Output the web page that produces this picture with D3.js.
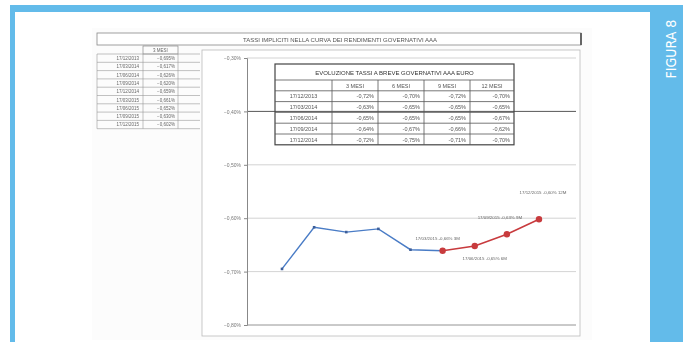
<!DOCTYPE html>
<html>
<head>
<meta charset="utf-8">
<script src="https://cdn.jsdelivr.net/npm/d3@7"></script>
<style>
  body { margin: 0; background: #fff; }
  svg { display: block; font-family: "Liberation Sans", Arial, sans-serif; }
</style>
</head>
<body>
<svg id="drawing_region"></svg>
<script>
// dati
const dates = ["17/12/2013", "17/03/2014", "17/06/2014", "17/09/2014", "17/12/2014",
               "17/03/2015", "17/06/2015", "17/09/2015", "17/12/2015"];
const blueValues = [-0.695, -0.617, -0.626, -0.620, -0.659, -0.661];
const redValues = [-0.661, -0.652, -0.630, -0.602];
const yTicks = [-0.30, -0.40, -0.50, -0.60, -0.70, -0.80];
const pointLabels = ["17/03/2015 -0,66% 3M", "17/06/2015 -0,65% 6M", "17/09/2015 -0,63% 9M", "17/12/2015 -0,60% 12M"];

const mainTitle = "TASSI IMPLICITI NELLA CURVA DEI RENDIMENTI GOVERNATIVI AAA";
const tableTitle = "EVOLUZIONE TASSI A BREVE GOVERNATIVI AAA EURO";
const tableHeaders = ["3 MESI", "6 MESI", "9 MESI", "12 MESI"];
const tableDates = ["17/12/2013", "17/03/2014", "17/06/2014", "17/09/2014", "17/12/2014"];
const tableRows = [
  ["-0,72%", "-0,70%", "-0,72%", "-0,70%"],
  ["-0,63%", "-0,65%", "-0,65%", "-0,65%"],
  ["-0,65%", "-0,65%", "-0,65%", "-0,67%"],
  ["-0,64%", "-0,67%", "-0,66%", "-0,62%"],
  ["-0,72%", "-0,75%", "-0,71%", "-0,70%"]
];
const leftHeader = "3 MESI";
const figLabel = "FIGURA 8";

const W = 683, H = 342;
const blue = "#63bbea";
const fmt = v => d3.format(".2f")(v).replace(".", ",") + "%";
const fmt3 = v => d3.format(".3f")(v).replace(".", ",") + "%";

const svg = d3.select("#drawing_region").attr("width", W).attr("height", H);

// filtro leggero per imitare la scansione
const defs = svg.append("defs");
defs.append("filter").attr("id", "soft")
  .append("feGaussianBlur").attr("stdDeviation", 0.4);

// cornice blu
svg.append("rect").attr("x", 10).attr("y", 5).attr("width", W - 10).attr("height", 7).attr("fill", blue);
svg.append("rect").attr("x", 10).attr("y", 5).attr("width", 5).attr("height", H - 5).attr("fill", blue);
svg.append("rect").attr("x", 650).attr("y", 5).attr("width", 33).attr("height", H - 5).attr("fill", blue);
svg.append("text")
  .attr("transform", "translate(671, 49) rotate(-90)")
  .attr("text-anchor", "middle")
  .attr("dominant-baseline", "central")
  .attr("fill", "#fff")
  .style("font-family", "'Liberation Sans Narrow', 'DejaVu Sans Condensed', 'Roboto', sans-serif")
  .style("font-stretch", "condensed")
  .style("font-size", "14px")
  .text(figLabel);

// area scansionata
const scan = svg.append("g").attr("filter", "url(#soft)");
scan.append("rect").attr("x", 92).attr("y", 28).attr("width", 500).attr("height", 312).attr("fill", "#fcfcfc");

// titolo principale
scan.append("rect").attr("x", 97).attr("y", 33).attr("width", 484).attr("height", 12)
  .attr("fill", "#fff").attr("stroke", "#888").attr("stroke-width", 0.8);
scan.append("line").attr("x1", 581).attr("x2", 581).attr("y1", 33).attr("y2", 45)
  .attr("stroke", "#666").attr("stroke-width", 2);
scan.append("text").attr("x", 340).attr("y", 41.5).attr("text-anchor", "middle")
  .style("font-size", "6px").attr("fill", "#555").text(mainTitle);

// tabella a sinistra
const lt = { x0: 97, c1: 143, c2: 178, x1: 200, top: 46, hh: 8, rh: 8.3 };
const ltBottom = lt.top + lt.hh + dates.length * lt.rh;
scan.append("rect").attr("x", lt.c1).attr("y", lt.top).attr("width", lt.c2 - lt.c1).attr("height", lt.hh)
  .attr("fill", "none").attr("stroke", "#777").attr("stroke-width", 0.6);
scan.append("text").attr("x", (lt.c1 + lt.c2) / 2).attr("y", lt.top + 6).attr("text-anchor", "middle")
  .style("font-size", "4.5px").attr("fill", "#666").text(leftHeader);
dates.forEach((d, i) => {
  const y = lt.top + lt.hh + i * lt.rh;
  const v = i < blueValues.length ? blueValues[i] : redValues[i - blueValues.length + 1];
  scan.append("line").attr("x1", lt.x0).attr("x2", lt.x1).attr("y1", y).attr("y2", y)
    .attr("stroke", "#999").attr("stroke-width", 0.6);
  scan.append("text").attr("x", lt.c1 - 4).attr("y", y + 6).attr("text-anchor", "end")
    .style("font-size", "4.5px").attr("fill", "#666").text(d);
  scan.append("text").attr("x", lt.c2 - 3).attr("y", y + 6).attr("text-anchor", "end")
    .style("font-size", "4.5px").attr("fill", "#666").text(fmt3(v));
});
scan.append("line").attr("x1", lt.x0).attr("x2", lt.x1).attr("y1", ltBottom).attr("y2", ltBottom)
  .attr("stroke", "#999").attr("stroke-width", 0.6);
[lt.x0, lt.c1, lt.c2].forEach(x => {
  scan.append("line").attr("x1", x).attr("x2", x).attr("y1", lt.top + lt.hh).attr("y2", ltBottom)
    .attr("stroke", "#999").attr("stroke-width", 0.6);
});

// riquadro del grafico
scan.append("rect").attr("x", 202).attr("y", 50).attr("width", 378).attr("height", 286)
  .attr("fill", "#fff").attr("stroke", "#bbb").attr("stroke-width", 0.8);

const plot = { left: 247, right: 576, top: 58, bottom: 325 };
const xscale = d3.scalePoint().domain(dates).range([282, 539]);
const yscale = d3.scaleLinear().domain([-0.80, -0.30]).range([plot.bottom, plot.top]);

// griglia
scan.selectAll(".grid").data(yTicks).enter().append("line")
  .attr("x1", plot.left).attr("x2", plot.right)
  .attr("y1", d => yscale(d)).attr("y2", d => yscale(d))
  .attr("stroke", d => d === -0.40 ? "#555" : "#c8c8c8")
  .attr("stroke-width", d => d === -0.40 ? 1 : 0.8);

// asse y
const yaxis = d3.axisLeft(yscale).tickValues(yTicks).tickFormat(fmt).tickSize(3);
const yg = scan.append("g").attr("transform", `translate(${plot.left},0)`).call(yaxis);
yg.select(".domain").attr("stroke", "#888");
yg.selectAll(".tick line").attr("stroke", "#888");
yg.selectAll(".tick text").attr("fill", "#777").style("font-size", "5px")
  .style("font-family", "'Liberation Sans', Arial, sans-serif");
scan.append("line").attr("x1", plot.left).attr("x2", plot.right)
  .attr("y1", plot.bottom).attr("y2", plot.bottom).attr("stroke", "#999").attr("stroke-width", 0.8);

// tabella centrale
const tb = { x0: 275, cols: [332, 378, 424, 470], x1: 514, top: 64, th: 16, rh: 10.8 };
const tbBottom = tb.top + tb.th + (tableDates.length + 1) * tb.rh;
scan.append("rect").attr("x", tb.x0).attr("y", tb.top).attr("width", tb.x1 - tb.x0).attr("height", tbBottom - tb.top)
  .attr("fill", "none").attr("stroke", "#444").attr("stroke-width", 1.2);
scan.append("text").attr("x", (tb.x0 + tb.x1) / 2).attr("y", tb.top + 10.5).attr("text-anchor", "middle")
  .style("font-size", "6px").attr("fill", "#333").text(tableTitle);
for (let i = 0; i <= tableDates.length; i++) {
  const y = tb.top + tb.th + i * tb.rh;
  scan.append("line").attr("x1", tb.x0).attr("x2", tb.x1).attr("y1", y).attr("y2", y)
    .attr("stroke", "#555").attr("stroke-width", 0.8);
}
tb.cols.forEach(x => {
  scan.append("line").attr("x1", x).attr("x2", x).attr("y1", tb.top + tb.th).attr("y2", tbBottom)
    .attr("stroke", "#555").attr("stroke-width", 0.8);
});
const colEdges = [tb.x0].concat(tb.cols, [tb.x1]);
tableHeaders.forEach((h, j) => {
  scan.append("text").attr("x", (colEdges[j + 1] + colEdges[j + 2]) / 2).attr("y", tb.top + tb.th + 7.5)
    .attr("text-anchor", "middle").style("font-size", "5.5px").attr("fill", "#555").text(h);
});
tableDates.forEach((d, i) => {
  const y = tb.top + tb.th + (i + 1) * tb.rh + 7.5;
  scan.append("text").attr("x", (colEdges[0] + colEdges[1]) / 2).attr("y", y)
    .attr("text-anchor", "middle").style("font-size", "5.5px").attr("fill", "#555").text(d);
  tableRows[i].forEach((v, j) => {
    scan.append("text").attr("x", colEdges[j + 2] - 4).attr("y", y)
      .attr("text-anchor", "end").style("font-size", "5.5px").attr("fill", "#555").text(v);
  });
});

// linee
const line = d3.line().x(d => xscale(d.date)).y(d => yscale(d.value));
const blueData = blueValues.map((v, i) => ({ date: dates[i], value: v }));
const offset = blueValues.length - 1;
const redData = redValues.map((v, i) => ({ date: dates[offset + i], value: v }));

scan.append("path").datum(blueData).attr("d", line)
  .attr("fill", "none").attr("stroke", "#4a7cc6").attr("stroke-width", 1.4);
scan.selectAll(".bpt").data(blueData.slice(0, offset)).enter().append("rect")
  .attr("x", d => xscale(d.date) - 1.3).attr("y", d => yscale(d.value) - 1.3)
  .attr("width", 2.6).attr("height", 2.6).attr("fill", "#3d5f9a");

scan.append("path").datum(redData).attr("d", line)
  .attr("fill", "none").attr("stroke", "#c83a3e").attr("stroke-width", 1.6);
scan.selectAll(".rpt").data(redData).enter().append("circle")
  .attr("cx", d => xscale(d.date)).attr("cy", d => yscale(d.value))
  .attr("r", 3.2).attr("fill", "#c83a3e");

// etichette dei punti
const labelOffsets = [[-5, -11], [10, 14], [-7, -15], [4, -25]];
scan.selectAll(".plabel").data(redData).enter().append("text")
  .attr("x", (d, i) => xscale(d.date) + labelOffsets[i][0])
  .attr("y", (d, i) => yscale(d.value) + labelOffsets[i][1])
  .attr("text-anchor", "middle")
  .style("font-size", "4.4px").attr("fill", "#666")
  .text((d, i) => pointLabels[i]);
</script>
</body>
</html>
